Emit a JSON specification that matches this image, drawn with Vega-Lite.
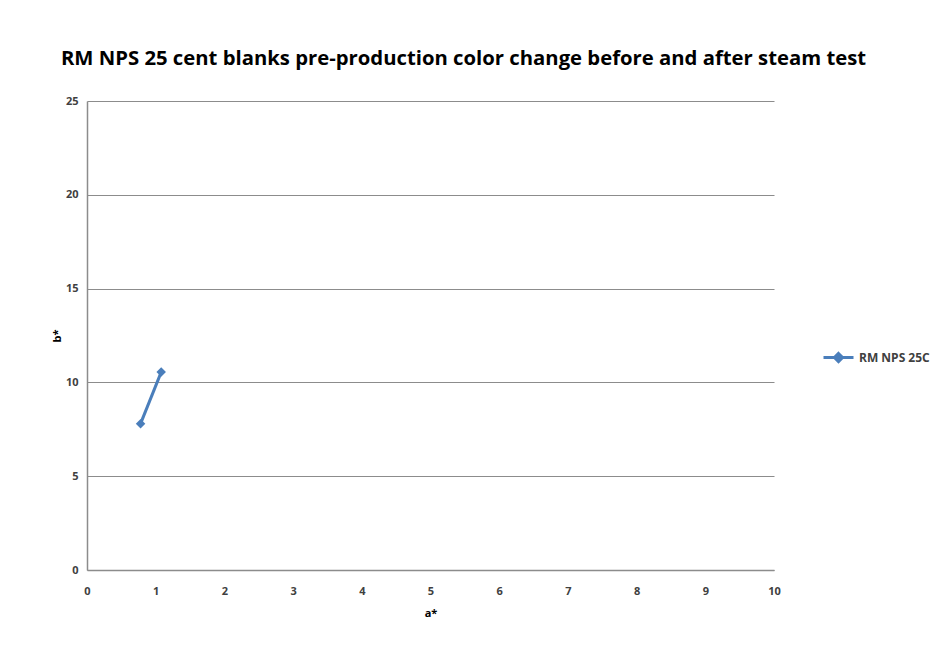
{
  "$schema": "https://vega.github.io/schema/vega-lite/v6.json",
  "width": 687,
  "height": 469,
  "autosize": {"type": "none"},
  "padding": {"left": 87, "top": 101, "right": 161, "bottom": 75},
  "background": "white",
  "title": {
    "text": "RM NPS 25 cent blanks pre-production color change before and after steam test",
    "font": "Open Sans",
    "fontSize": 20.3,
    "fontWeight": "bold",
    "color": "#000000",
    "anchor": "middle",
    "dx": 33,
    "offset": 26
  },
  "config": {
    "view": {"stroke": null},
    "font": "Open Sans"
  },
  "data": {
    "values": [
      {"series": "RM NPS 25C", "a": 0.78, "b": 7.8},
      {"series": "RM NPS 25C", "a": 1.08, "b": 10.55}
    ]
  },
  "mark": {"type": "line", "strokeWidth": 3, "point": {"shape": "diamond", "size": 90, "filled": true, "color": "#4a7ebb"}},
  "encoding": {
    "x": {
      "field": "a", "type": "quantitative",
      "scale": {"domain": [0, 10], "nice": false, "zero": true},
      "axis": {
        "title": "a*", "values": [0,1,2,3,4,5,6,7,8,9,10], "grid": false, "ticks": false, "labelFlush": false,
        "domainColor": "#8c8c8c", "domainWidth": 1.5,
        "labelFont": "Open Sans", "labelFontSize": 11, "labelFontWeight": "bold", "labelColor": "#404040", "labelPadding": 15,
        "titleFont": "Open Sans", "titleFontSize": 11, "titleFontWeight": "bold", "titleColor": "#000000", "titlePadding": 11
      }
    },
    "y": {
      "field": "b", "type": "quantitative",
      "scale": {"domain": [0, 25], "nice": false},
      "axis": {
        "title": "b*", "values": [0,5,10,15,20,25], "grid": true, "gridColor": "#8c8c8c", "gridWidth": 1.2, "ticks": false, "labelFlush": false,
        "domainColor": "#8c8c8c", "domainWidth": 1.5,
        "labelFont": "Open Sans", "labelFontSize": 11, "labelFontWeight": "bold", "labelColor": "#404040", "labelPadding": 9,
        "titleFont": "Open Sans", "titleFontSize": 11, "titleFontWeight": "bold", "titleColor": "#000000", "titlePadding": 3
      }
    },
    "color": {
      "field": "series", "type": "nominal",
      "scale": {"range": ["#4a7ebb"]},
      "legend": {
        "title": null, "orient": "none", "legendX": 735, "legendY": 240,
        "symbolType": "M-1,0H1M0,-0.27L0.27,0L0,0.27L-0.27,0Z", "symbolStrokeWidth": 3, "symbolSize": 900,
        "symbolFillColor": "#4a7ebb",
        "labelFont": "Open Sans", "labelFontSize": 12, "labelFontWeight": "bold", "labelColor": "#404040", "labelOffset": 4
      }
    }
  }
}
